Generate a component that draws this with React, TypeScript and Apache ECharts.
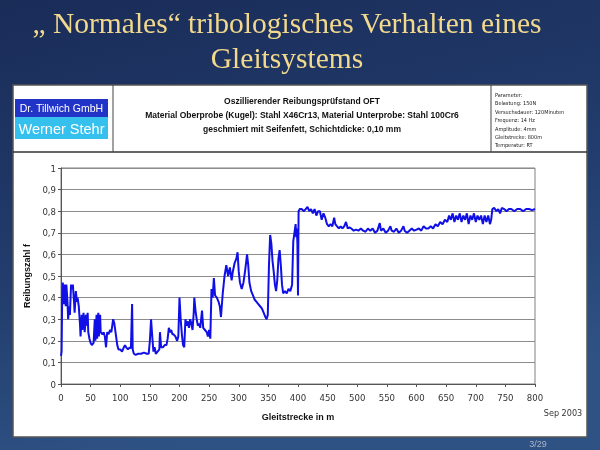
import React, { useEffect, useRef } from "react";
import * as echarts from "echarts";

const titleLines = ["\u201e Normales\u201c tribologisches Verhalten eines", "Gleitsystems"];
const headerLines = [
  "Oszillierender Reibungsprüfstand OFT",
  "Material Oberprobe (Kugel): Stahl X46Cr13, Material Unterprobe: Stahl 100Cr6",
  "geschmiert mit Seifenfett, Schichtdicke: 0,10 mm",
];
const paramLines = [
  "Parameter:",
  "Belastung: 150N",
  "Versuchsdauer: 120Minuten",
  "Frequenz: 14 Hz",
  "Amplitude: 4mm",
  "Gleitstrecke: 800m",
  "Temperatur: RT",
];
const logoLines = ["Dr. Tillwich GmbH", "Werner Stehr"];
const xAxisName = "Gleitstrecke in m";
const yAxisName = "Reibungszahl f";
const dateLabel = "Sep 2003";
const pageLabel = "3/29";

// Gleitstrecke (m)
const distance = [
  0, 1, 2, 3, 5, 6, 8, 9, 11, 12, 14, 15, 17, 19, 20, 22, 23, 25, 27, 28,
  30, 32, 33, 35, 36, 38, 40, 42, 43, 45, 46, 48, 50, 52, 55, 57, 58, 60, 61, 63,
  64, 66, 67, 70, 72, 74, 76, 78, 80, 83, 85, 88, 90, 92, 95, 97, 100, 103, 106, 108,
  110, 113, 116, 118, 120, 121, 123, 126, 130, 135, 140, 145, 148, 150, 152, 154, 156, 158, 160, 163,
  166, 167, 169, 172, 175, 178, 180, 182, 184, 186, 188, 190, 193, 196, 198, 200, 202, 204, 206, 208,
  210, 212, 214, 216, 218, 220, 222, 224, 225, 227, 229, 231, 233, 235, 238, 240, 243, 246, 248, 250,
  252, 254, 256, 258, 260, 263, 266, 268, 270, 273, 276, 279, 282, 285, 288, 290, 293, 296, 298, 300,
  302, 305, 308, 311, 314, 316, 318, 321, 324, 327, 330, 333, 336, 339, 342, 345, 347, 349, 351, 353,
  355, 357, 359, 361, 363, 365, 367, 369, 371, 373, 375, 378, 381, 384, 387, 390, 392, 394, 396, 397,
  398, 399, 400, 401, 403, 406, 410, 413, 416, 419, 422, 425, 428, 431, 434, 437, 440, 443, 446, 449,
  452, 455, 458, 461, 463, 466, 469, 472, 475, 478, 481, 484, 487, 490, 494, 498, 502, 506, 510, 514,
  518, 522, 526, 530, 534, 538, 540, 544, 548, 552, 556, 558, 562, 566, 570, 574, 578, 580, 584, 588,
  592, 596, 600, 604, 608, 612, 616, 620, 624, 628, 632, 636, 640, 644, 648, 652, 655, 658, 661, 664,
  667, 670, 673, 676, 679, 682, 685, 688, 691, 694, 697, 700, 703, 706, 709, 712, 715, 718, 721, 724,
  726, 728, 731, 735, 738, 741, 744, 748, 752, 756, 760, 765, 770, 775, 780, 785, 790, 795, 800,
];

// Reibungszahl f
const friction = [
  0.13, 0.15, 0.4, 0.47, 0.37, 0.46, 0.36, 0.46, 0.38, 0.3, 0.36, 0.32, 0.46, 0.44, 0.46, 0.38, 0.33, 0.43, 0.38, 0.4,
  0.36, 0.28, 0.22, 0.32, 0.25, 0.33, 0.24, 0.32, 0.27, 0.33, 0.24, 0.21, 0.19, 0.18, 0.19, 0.3, 0.2, 0.32, 0.21, 0.33,
  0.22, 0.32, 0.24, 0.23, 0.24, 0.22, 0.17, 0.24, 0.23, 0.25, 0.24, 0.3, 0.28, 0.24, 0.18, 0.16, 0.16, 0.15, 0.17, 0.18,
  0.17, 0.16, 0.17, 0.165, 0.37, 0.16, 0.14, 0.135, 0.14, 0.14, 0.145, 0.14, 0.14, 0.2, 0.3, 0.22, 0.15, 0.17, 0.14, 0.15,
  0.16, 0.24, 0.17, 0.17, 0.18, 0.18, 0.21, 0.26, 0.24, 0.25, 0.23, 0.23, 0.22, 0.2, 0.22, 0.4, 0.3, 0.23, 0.18, 0.17,
  0.3, 0.27, 0.29, 0.26, 0.3, 0.28, 0.25, 0.33, 0.4, 0.34, 0.3, 0.27, 0.28, 0.26, 0.34, 0.26, 0.25, 0.24, 0.22, 0.25,
  0.21, 0.44, 0.4, 0.49, 0.41, 0.4, 0.38, 0.36, 0.31, 0.42, 0.5, 0.55, 0.5, 0.54, 0.48, 0.52, 0.56, 0.58, 0.61, 0.52,
  0.47, 0.44, 0.47, 0.53, 0.6, 0.55, 0.47, 0.43, 0.41, 0.39, 0.38, 0.37, 0.36, 0.35, 0.33, 0.31, 0.3, 0.32, 0.55, 0.69,
  0.65, 0.57, 0.52, 0.46, 0.43, 0.48, 0.58, 0.62, 0.55, 0.46, 0.42, 0.43, 0.42, 0.44, 0.43, 0.46, 0.66, 0.7, 0.74, 0.68,
  0.72, 0.65, 0.41, 0.8, 0.81, 0.81, 0.8, 0.81, 0.82, 0.8, 0.81, 0.79, 0.81, 0.78, 0.8, 0.8, 0.76, 0.79, 0.77, 0.74,
  0.73, 0.74, 0.73, 0.77, 0.74, 0.73, 0.72, 0.73, 0.72, 0.73, 0.75, 0.72, 0.725, 0.72, 0.71, 0.715, 0.71, 0.72, 0.71, 0.705,
  0.72, 0.71, 0.72, 0.7, 0.71, 0.745, 0.71, 0.72, 0.7, 0.71, 0.73, 0.71, 0.705, 0.72, 0.7, 0.71, 0.73, 0.71, 0.7, 0.71,
  0.72, 0.71, 0.715, 0.72, 0.71, 0.73, 0.72, 0.72, 0.73, 0.72, 0.74, 0.73, 0.75, 0.74, 0.76, 0.75, 0.78, 0.76, 0.79, 0.75,
  0.78, 0.76, 0.79, 0.75, 0.78, 0.76, 0.79, 0.74, 0.78, 0.76, 0.79, 0.75, 0.78, 0.76, 0.78, 0.74, 0.78, 0.75, 0.78, 0.74,
  0.76, 0.81, 0.815, 0.8, 0.81, 0.79, 0.815, 0.81, 0.8, 0.81, 0.81, 0.8, 0.81, 0.81, 0.8, 0.81, 0.81, 0.805, 0.81,
];

const narrow = "'Liberation Sans Narrow', 'DejaVu Sans Condensed', 'Liberation Sans', sans-serif";
const sans = "'Liberation Sans', Arial, sans-serif";

export default function App() {
  const ref = useRef<HTMLDivElement>(null);

  useEffect(() => {
    if (!ref.current) return;
    const chart = echarts.init(ref.current, null, { renderer: "svg" });
    const data = distance.map((d, i) => [d, friction[i]]);

    const graphic: any[] = [
      {
        type: "rect",
        z: -20,
        silent: true,
        shape: { x: 0, y: 0, width: 600, height: 450 },
        style: {
          fill: new echarts.graphic.LinearGradient(0, 0, 0.3, 1, [
            { offset: 0, color: "#1a2c58" },
            { offset: 0.6, color: "#223d6e" },
            { offset: 1, color: "#2f5285" },
          ]),
        },
      },
      {
        type: "rect",
        z: -10,
        silent: true,
        shape: { x: 13, y: 85, width: 574, height: 352 },
        style: { fill: "#ffffff", stroke: "#555555", lineWidth: 1.5 },
      },
      {
        type: "line",
        z: -9,
        shape: { x1: 13, y1: 152, x2: 587, y2: 152 },
        style: { stroke: "#333333", lineWidth: 1.5 },
      },
      {
        type: "line",
        z: -9,
        shape: { x1: 113, y1: 85, x2: 113, y2: 152 },
        style: { stroke: "#444444", lineWidth: 1 },
      },
      {
        type: "line",
        z: -9,
        shape: { x1: 491, y1: 85, x2: 491, y2: 152 },
        style: { stroke: "#444444", lineWidth: 1 },
      },
      {
        type: "rect",
        z: -8,
        shape: { x: 15, y: 99, width: 93, height: 18 },
        style: { fill: "#2233c8" },
      },
      {
        type: "rect",
        z: -8,
        shape: { x: 15, y: 117, width: 93, height: 22 },
        style: { fill: "#36c0ee" },
      },
      {
        type: "text",
        z: 10,
        x: 61.5,
        y: 108,
        style: {
          text: logoLines[0],
          fill: "#ffffff",
          font: `10.5px ${sans}`,
          align: "center",
          verticalAlign: "middle",
        },
      },
      {
        type: "text",
        z: 10,
        x: 61.5,
        y: 128.5,
        style: {
          text: logoLines[1],
          fill: "#ffffff",
          font: `14.5px ${sans}`,
          align: "center",
          verticalAlign: "middle",
        },
      },
      ...titleLines.map((t, i) => ({
        type: "text",
        z: 10,
        x: 287,
        y: 23 + i * 35,
        style: {
          text: t,
          fill: "#f2d98e",
          font: `29.5px 'Liberation Serif', 'DejaVu Serif', serif`,
          align: "center",
          verticalAlign: "middle",
        },
      })),
      ...headerLines.map((t, i) => ({
        type: "text",
        z: 10,
        x: 302,
        y: 101 + i * 14,
        style: {
          text: t,
          fill: "#111111",
          font: `bold 8.5px ${sans}`,
          align: "center",
          verticalAlign: "middle",
        },
      })),
      ...paramLines.map((t, i) => ({
        type: "text",
        z: 10,
        x: 495,
        y: 95 + i * 8.4,
        style: {
          text: t,
          fill: "#222222",
          font: `5.5px ${narrow}`,
          align: "left",
          verticalAlign: "middle",
        },
      })),
      {
        type: "text",
        z: 10,
        x: 563,
        y: 413,
        style: {
          text: dateLabel,
          fill: "#333333",
          font: `9px ${narrow}`,
          align: "center",
          verticalAlign: "middle",
        },
      },
      {
        type: "text",
        z: 10,
        x: 538,
        y: 444,
        style: {
          text: pageLabel,
          fill: "#aab4c8",
          font: `9px ${sans}`,
          align: "center",
          verticalAlign: "middle",
        },
      },
    ];

    chart.setOption({
      animation: false,
      graphic,
      grid: {
        left: 61,
        right: 65,
        top: 168,
        bottom: 66,
        show: true,
        backgroundColor: "transparent",
        borderColor: "#808080",
        borderWidth: 1,
      },
      xAxis: {
        type: "value",
        min: 0,
        max: 800,
        interval: 50,
        name: xAxisName,
        nameLocation: "middle",
        nameGap: 28,
        nameTextStyle: { fontFamily: sans, fontWeight: "bold", fontSize: 9, color: "#111" },
        axisLine: { show: true, lineStyle: { color: "#555", width: 1 } },
        axisTick: { show: true, length: 3, lineStyle: { color: "#555" } },
        axisLabel: { fontFamily: narrow, fontSize: 9.5, color: "#333", margin: 8 },
        splitLine: { show: false },
      },
      yAxis: {
        type: "value",
        min: 0,
        max: 1,
        interval: 0.1,
        name: yAxisName,
        nameLocation: "middle",
        nameRotate: 90,
        nameGap: 20,
        nameTextStyle: { fontFamily: sans, fontWeight: "bold", fontSize: 9, color: "#111" },
        axisLine: { show: true, lineStyle: { color: "#555", width: 1 } },
        axisTick: { show: true, length: 3, lineStyle: { color: "#555" } },
        axisLabel: {
          fontFamily: narrow,
          fontSize: 9.5,
          color: "#333",
          margin: 5,
          formatter: (v: number) => String(Math.round(v * 10) / 10).replace(".", ","),
        },
        splitLine: { show: true, lineStyle: { color: "#8c8c8c", width: 1 } },
      },
      series: [
        {
          type: "line",
          data,
          showSymbol: false,
          symbol: "none",
          lineStyle: { color: "#1010e6", width: 2 },
          z: 5,
        },
      ],
    });

    return () => chart.dispose();
  }, []);

  return (
    <div
      ref={ref}
      style={{ position: "fixed", left: 0, top: 0, width: 600, height: 450 }}
    />
  );
}
